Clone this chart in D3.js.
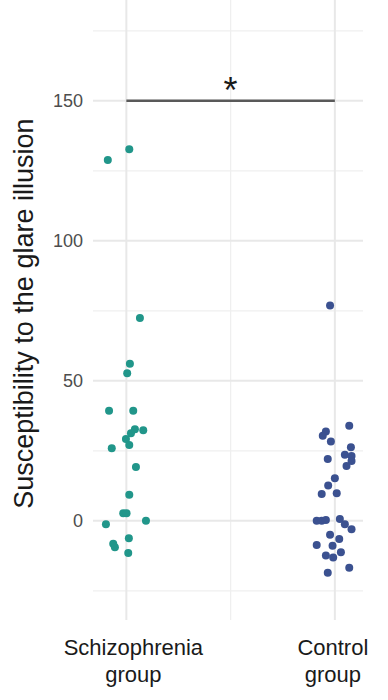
<!DOCTYPE html>
<html>
<head>
<meta charset="utf-8">
<script src="https://cdn.jsdelivr.net/npm/d3@7"></script>
<style>
  body { margin: 0; background: #fff; }
  text { font-family: "Liberation Sans", Arial, Helvetica, sans-serif; }
</style>
</head>
<body>
<svg id="chart" width="388" height="700"></svg>
<script>
// groups and their label lines
var groups = ['Schizophrenia', 'Control'];
var groupLabels = [['Schizophrenia', 'group'], ['Control', 'group']];

// susceptibility values, with horizontal jitter (in group units)
var schizoValues = [128.9, 132.7, 72.4, 56.1, 52.7, 39.3, 39.3, 32.7, 32.4, 31.3, 29.2, 27.1, 25.9,
  19.2, 9.3, 2.7, 2.7, -1.2, 0, -6.2, -8.2, -9.4, -11.5];
var schizoJitter = [-0.089, 0.014, 0.065, 0.017, 0.004, -0.083, 0.033, 0.041, 0.081, 0.022, -0.002, 0.014, -0.070,
  0.046, 0.014, -0.015, 0.001, -0.098, 0.094, 0.012, -0.063, -0.055, 0.009];

var controlValues = [76.9, 34.0, 31.9, 30.4, 28.3, 26.3, 23.6, 23.2, 21.4, 19.6, 22.1, 15.2, 12.6, 9.6, 9.9,
  0, 0, 0.3, 0.7, -1.2, -3.0, -5, -6.5, -8.6, -8.9, -11.2, -12.4, -13.1, -16.7, -18.5];
var controlJitter = [-0.023, 0.069, -0.043, -0.058, -0.019, 0.077, 0.048, 0.080, 0.080, 0.056, -0.034, 0.000, -0.032, -0.063, 0.009,
  -0.087, -0.063, -0.043, 0.024, 0.048, 0.080, -0.023, 0.021, -0.087, -0.011, 0.029, -0.043, -0.008, 0.069, -0.034];

var majorTicks = [0, 50, 100, 150];
var minorTicks = [-25, 25, 75, 125, 175];
var sigLevel = 150;
var sigLabel = '*';
var colors = ['#21968a', '#3b5190'];

var svg = d3.select('#chart');

var x = d3.scaleLinear().domain([0.84, 2.135]).range([93, 363]);
var y = d3.scaleLinear().domain([-35.4, 186]).range([620, 0]);

var grid = svg.append('g');
grid.selectAll('line.minor-y').data(minorTicks).enter().append('line')
  .attr('x1', x.range()[0]).attr('x2', x.range()[1])
  .attr('y1', function(d){ return y(d); }).attr('y2', function(d){ return y(d); })
  .attr('stroke', '#efefef').attr('stroke-width', 1.3);
grid.selectAll('line.minor-x').data([1.5]).enter().append('line')
  .attr('x1', function(d){ return x(d); }).attr('x2', function(d){ return x(d); })
  .attr('y1', y.range()[0]).attr('y2', y.range()[1])
  .attr('stroke', '#efefef').attr('stroke-width', 1.3);
grid.selectAll('line.major-y').data(majorTicks).enter().append('line')
  .attr('x1', x.range()[0]).attr('x2', x.range()[1])
  .attr('y1', function(d){ return y(d); }).attr('y2', function(d){ return y(d); })
  .attr('stroke', '#e8e8e8').attr('stroke-width', 2);
grid.selectAll('line.major-x').data([1, 2]).enter().append('line')
  .attr('x1', function(d){ return x(d); }).attr('x2', function(d){ return x(d); })
  .attr('y1', y.range()[0]).attr('y2', y.range()[1])
  .attr('stroke', '#e8e8e8').attr('stroke-width', 2);

// y tick labels
svg.append('g').selectAll('text').data(majorTicks).enter().append('text')
  .attr('x', 83).attr('y', function(d){ return y(d); })
  .attr('dy', '0.36em').attr('text-anchor', 'end')
  .attr('font-size', 18).attr('fill', '#4d4d4d')
  .text(function(d){ return d; });

// y axis title
svg.append('text')
  .attr('transform', 'translate(33,' + y(74) + ') rotate(-90)')
  .attr('text-anchor', 'middle').attr('font-size', 27).attr('fill', '#1a1a1a')
  .text('Susceptibility to the glare illusion');

// x labels
var xl = svg.append('g').selectAll('text').data(groupLabels).enter().append('text')
  .attr('text-anchor', 'middle').attr('font-size', 22).attr('fill', '#1a1a1a')
  .attr('x', function(d, i){ return x(i + 1) + (i === 0 ? 7 : -2); })
  .attr('y', 655);
xl.selectAll('tspan').data(function(d){ return d; }).enter().append('tspan')
  .attr('x', function(){ return d3.select(this.parentNode).attr('x'); })
  .attr('dy', function(d, i){ return i === 0 ? 0 : 27; })
  .text(function(d){ return d; });

// significance bar
svg.append('line')
  .attr('x1', x(1)).attr('x2', x(2))
  .attr('y1', y(sigLevel)).attr('y2', y(sigLevel))
  .attr('stroke', '#595959').attr('stroke-width', 2.6);
svg.append('text')
  .attr('x', x(1.5)).attr('y', y(sigLevel) + 2)
  .attr('text-anchor', 'middle').attr('font-size', 36).attr('fill', '#1a1a1a')
  .text(sigLabel);

// points
var series = [
  { values: schizoValues, jitter: schizoJitter, pos: 1, color: colors[0] },
  { values: controlValues, jitter: controlJitter, pos: 2, color: colors[1] }
];
series.forEach(function(s){
  svg.append('g').selectAll('circle').data(s.values).enter().append('circle')
    .attr('cx', function(d, i){ return x(s.pos + s.jitter[i]); })
    .attr('cy', function(d){ return y(d); })
    .attr('r', 4)
    .attr('fill', s.color);
});
</script>
</body>
</html>
